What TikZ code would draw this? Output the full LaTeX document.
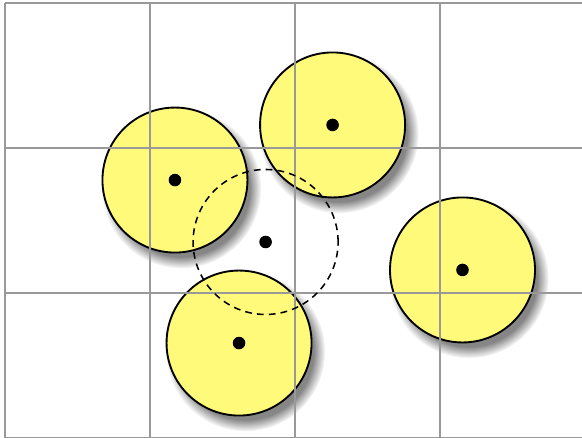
\documentclass[tikz,border=0pt]{standalone}
\usepackage{xcolor}
\usepackage{tikz}
\usetikzlibrary{shadows,fadings}

\definecolor{discyellow}{RGB}{255,250,122}
\definecolor{gridgray}{RGB}{153,153,153}

\begin{document}
\begin{tikzpicture}[
    x=3cm, y=-3cm,
    disc/.style={circle, draw=black, line width=1.1pt, fill=discyellow, minimum size=3cm, inner sep=0pt,
      circular drop shadow={shadow xshift=1.2mm, shadow yshift=-1.6mm, shadow scale=1.1, opacity=0.95}},
    probe/.style={circle, draw=black, dash pattern=on 4pt off 3pt, line width=0.9pt, minimum size=3cm, inner sep=0pt},
    centre/.style={circle, fill=black, minimum size=0.26cm, inner sep=0pt},
    gridline/.style={draw=gridgray, line width=1.2pt}
]
  \useasboundingbox (-0.0345,-0.0207) rectangle (3.979,2.993);

  % discs with their shadows
  \node[disc] (d1) at (1.172, 1.221) {};
  \node[disc] (d2) at (2.259, 0.841) {};
  \node[disc] (d3) at (3.155, 1.841) {};
  \node[disc] (d4) at (1.614, 2.345) {};

  % grid on top
  \foreach \gx in {0,1,2,3}
    \draw[gridline] (\gx,0) -- (\gx,3.05);
  \foreach \gy in {0,1,2,3}
    \draw[gridline] (0,\gy) -- (4.05,\gy);

  % query disc
  \node[probe] (q) at (1.797, 1.648) {};

  % centres
  \node[centre] (c1) at (d1.center) {};
  \node[centre] (c2) at (d2.center) {};
  \node[centre] (c3) at (d3.center) {};
  \node[centre] (c4) at (d4.center) {};
  \node[centre] (cq) at (q.center) {};
\end{tikzpicture}
\end{document}
